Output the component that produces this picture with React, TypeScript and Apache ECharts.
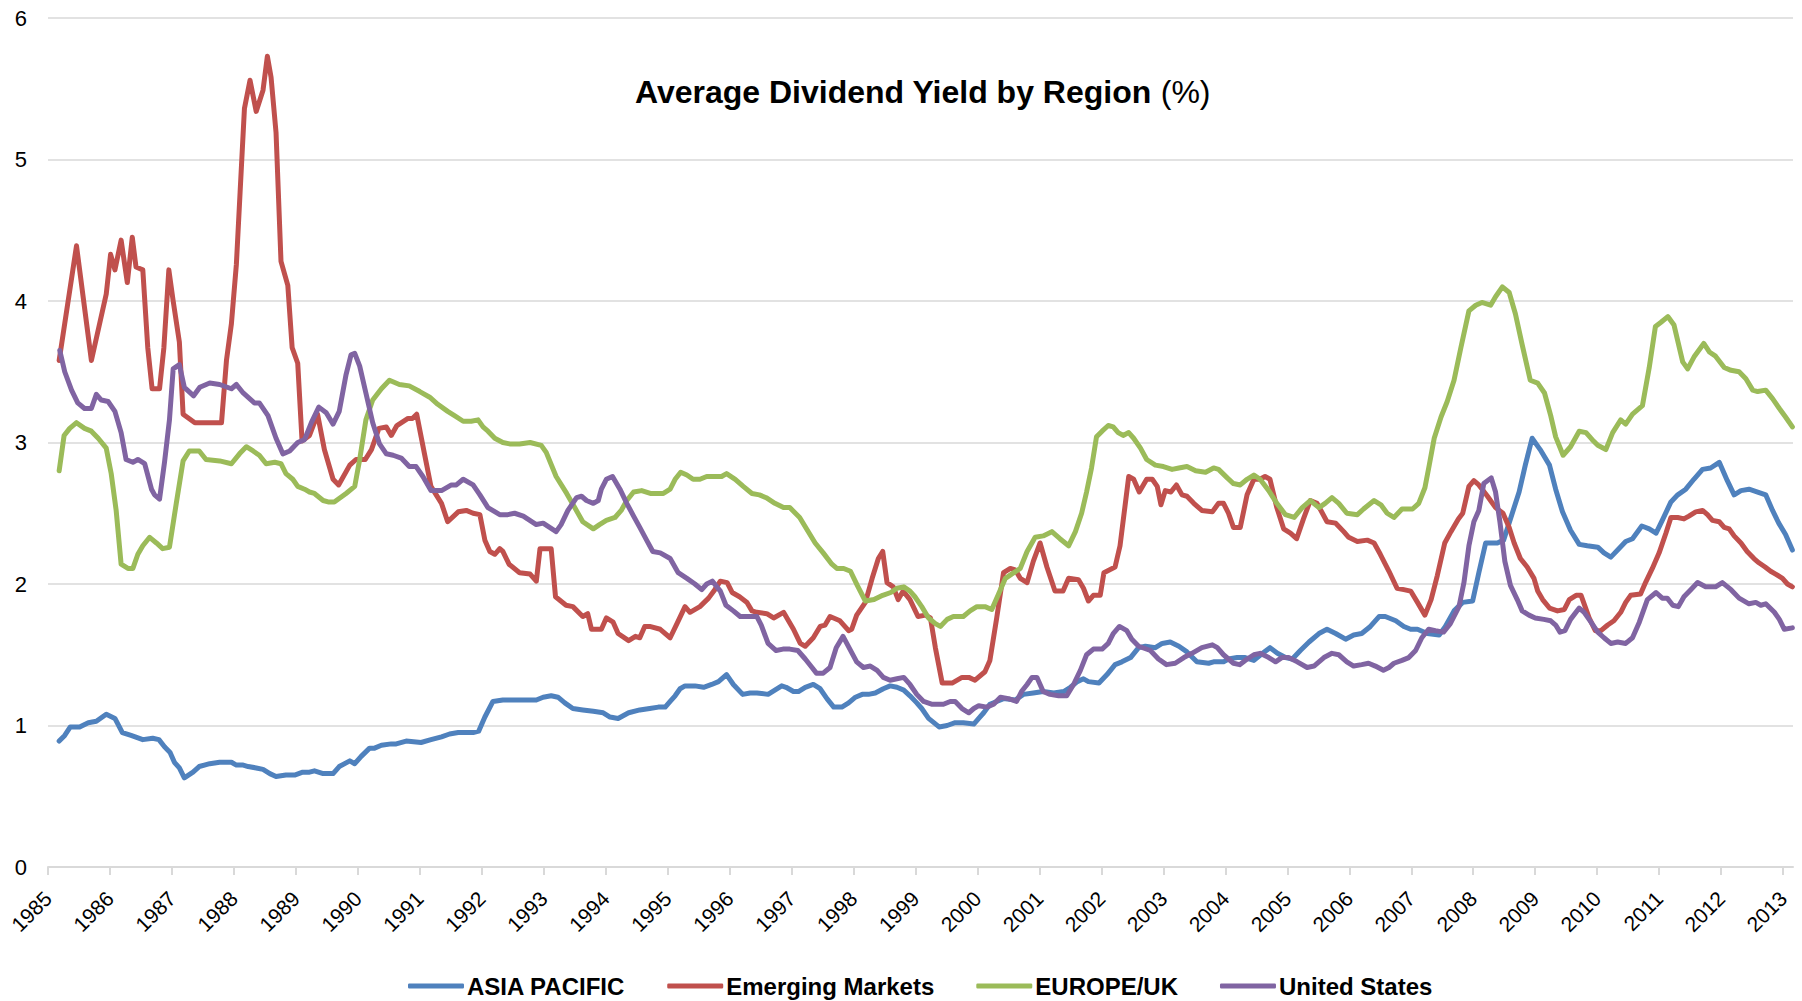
import React, { useEffect, useRef } from "react";
import * as echarts from "echarts";

const FONT = "'Liberation Sans', Arial, Helvetica, sans-serif";

const seriesNames = ["ASIA PACIFIC", "Emerging Markets", "EUROPE/UK", "United States"];
const seriesColors = ["#4F81BD", "#C0504D", "#9BBB59", "#8064A2"];
const yearTicks = [1985, 1986, 1987, 1988, 1989, 1990, 1991, 1992, 1993, 1994, 1995, 1996, 1997, 1998, 1999, 2000, 2001, 2002, 2003, 2004, 2005, 2006, 2007, 2008, 2009, 2010, 2011, 2012, 2013];
const yTicks = [0, 1, 2, 3, 4, 5, 6];

const asiaPacific: [number, number][] = [[1985.18,0.89],[1985.27,0.93],[1985.36,0.99],[1985.51,0.99],[1985.65,1.02],[1985.78,1.03],[1985.94,1.08],[1986.08,1.05],[1986.20,0.95],[1986.34,0.93],[1986.53,0.90],[1986.69,0.91],[1986.79,0.90],[1986.88,0.85],[1986.97,0.81],[1987.04,0.74],[1987.12,0.70],[1987.20,0.63],[1987.34,0.67],[1987.44,0.71],[1987.61,0.73],[1987.77,0.74],[1987.96,0.74],[1988.04,0.72],[1988.15,0.72],[1988.23,0.71],[1988.36,0.70],[1988.47,0.69],[1988.58,0.66],[1988.68,0.64],[1988.84,0.65],[1988.98,0.65],[1989.11,0.67],[1989.22,0.67],[1989.30,0.68],[1989.44,0.66],[1989.60,0.66],[1989.70,0.71],[1989.87,0.75],[1989.95,0.73],[1990.05,0.78],[1990.19,0.84],[1990.27,0.84],[1990.38,0.86],[1990.54,0.87],[1990.62,0.87],[1990.78,0.89],[1991.02,0.88],[1991.18,0.90],[1991.35,0.92],[1991.48,0.94],[1991.62,0.95],[1991.75,0.95],[1991.86,0.95],[1991.95,0.96],[1992.05,1.06],[1992.18,1.17],[1992.34,1.18],[1992.50,1.18],[1992.67,1.18],[1992.88,1.18],[1992.99,1.20],[1993.12,1.21],[1993.23,1.20],[1993.34,1.16],[1993.47,1.12],[1993.63,1.11],[1993.80,1.10],[1993.96,1.09],[1994.07,1.06],[1994.20,1.05],[1994.37,1.09],[1994.55,1.11],[1994.71,1.12],[1994.85,1.13],[1994.96,1.13],[1995.04,1.17],[1995.12,1.21],[1995.20,1.26],[1995.28,1.28],[1995.44,1.28],[1995.58,1.27],[1995.71,1.29],[1995.82,1.31],[1995.95,1.36],[1996.06,1.29],[1996.21,1.22],[1996.33,1.23],[1996.44,1.23],[1996.62,1.22],[1996.73,1.25],[1996.84,1.28],[1996.91,1.27],[1997.03,1.24],[1997.11,1.24],[1997.22,1.27],[1997.35,1.29],[1997.46,1.26],[1997.57,1.19],[1997.68,1.13],[1997.81,1.13],[1997.92,1.16],[1998.03,1.20],[1998.14,1.22],[1998.24,1.22],[1998.35,1.23],[1998.48,1.26],[1998.59,1.28],[1998.70,1.27],[1998.81,1.25],[1998.91,1.21],[1999.02,1.16],[1999.10,1.12],[1999.21,1.05],[1999.38,0.99],[1999.51,1.00],[1999.64,1.02],[1999.77,1.02],[1999.94,1.01],[2000.02,1.05],[2000.10,1.09],[2000.20,1.15],[2000.31,1.17],[2000.42,1.19],[2000.61,1.18],[2000.74,1.22],[2000.90,1.23],[2001.06,1.24],[2001.23,1.23],[2001.39,1.24],[2001.50,1.27],[2001.61,1.31],[2001.71,1.33],[2001.79,1.31],[2001.96,1.30],[2002.09,1.36],[2002.22,1.43],[2002.33,1.45],[2002.47,1.48],[2002.60,1.55],[2002.71,1.56],[2002.87,1.55],[2002.98,1.58],[2003.11,1.59],[2003.25,1.56],[2003.38,1.52],[2003.54,1.45],[2003.73,1.44],[2003.81,1.45],[2003.97,1.45],[2004.05,1.47],[2004.19,1.48],[2004.32,1.48],[2004.46,1.46],[2004.60,1.51],[2004.72,1.55],[2004.84,1.51],[2004.97,1.48],[2005.08,1.47],[2005.21,1.53],[2005.35,1.59],[2005.51,1.65],[2005.64,1.68],[2005.78,1.65],[2005.94,1.61],[2006.07,1.64],[2006.20,1.65],[2006.34,1.70],[2006.48,1.77],[2006.58,1.77],[2006.75,1.74],[2006.88,1.70],[2006.99,1.68],[2007.10,1.68],[2007.26,1.65],[2007.45,1.64],[2007.55,1.70],[2007.69,1.81],[2007.83,1.87],[2007.99,1.88],[2008.09,2.08],[2008.20,2.29],[2008.39,2.29],[2008.49,2.31],[2008.60,2.46],[2008.74,2.65],[2008.84,2.84],[2008.95,3.03],[2009.08,2.95],[2009.23,2.84],[2009.33,2.67],[2009.44,2.51],[2009.57,2.38],[2009.71,2.28],[2009.84,2.27],[2010.01,2.26],[2010.11,2.22],[2010.22,2.19],[2010.33,2.24],[2010.46,2.30],[2010.57,2.32],[2010.72,2.41],[2010.84,2.39],[2010.95,2.36],[2011.05,2.45],[2011.19,2.58],[2011.30,2.63],[2011.43,2.67],[2011.56,2.74],[2011.70,2.81],[2011.83,2.82],[2011.97,2.86],[2012.10,2.73],[2012.21,2.63],[2012.32,2.66],[2012.45,2.67],[2012.59,2.65],[2012.72,2.63],[2012.83,2.52],[2012.93,2.43],[2013.04,2.35],[2013.15,2.24]];

const emergingMarkets: [number, number][] = [[1985.18,3.58],[1985.46,4.39],[1985.70,3.58],[1985.94,4.05],[1986.01,4.33],[1986.08,4.22],[1986.18,4.43],[1986.28,4.13],[1986.36,4.45],[1986.42,4.24],[1986.53,4.22],[1986.61,3.67],[1986.68,3.38],[1986.80,3.38],[1986.87,3.67],[1986.95,4.22],[1987.02,4.00],[1987.12,3.71],[1987.18,3.20],[1987.37,3.14],[1987.80,3.14],[1987.88,3.58],[1987.96,3.84],[1988.04,4.26],[1988.10,4.77],[1988.17,5.36],[1988.26,5.56],[1988.36,5.34],[1988.47,5.49],[1988.54,5.73],[1988.60,5.58],[1988.68,5.19],[1988.76,4.28],[1988.87,4.11],[1988.94,3.67],[1989.03,3.56],[1989.10,3.01],[1989.22,3.05],[1989.35,3.20],[1989.46,2.95],[1989.60,2.74],[1989.69,2.70],[1989.87,2.84],[1989.97,2.88],[1990.12,2.88],[1990.22,2.95],[1990.34,3.10],[1990.46,3.11],[1990.54,3.05],[1990.63,3.12],[1990.81,3.17],[1990.88,3.17],[1990.95,3.20],[1991.08,2.91],[1991.18,2.69],[1991.35,2.57],[1991.45,2.44],[1991.62,2.51],[1991.75,2.52],[1991.86,2.50],[1991.97,2.49],[1992.05,2.31],[1992.13,2.23],[1992.21,2.21],[1992.29,2.25],[1992.34,2.23],[1992.44,2.14],[1992.61,2.08],[1992.78,2.07],[1992.88,2.02],[1992.94,2.25],[1993.12,2.25],[1993.19,1.91],[1993.36,1.85],[1993.47,1.84],[1993.63,1.77],[1993.71,1.79],[1993.77,1.68],[1993.93,1.68],[1994.01,1.76],[1994.12,1.73],[1994.20,1.65],[1994.37,1.60],[1994.48,1.63],[1994.55,1.62],[1994.63,1.70],[1994.71,1.70],[1994.88,1.68],[1995.04,1.62],[1995.15,1.72],[1995.28,1.84],[1995.36,1.80],[1995.52,1.84],[1995.66,1.90],[1995.76,1.96],[1995.85,2.02],[1995.96,2.01],[1996.04,1.94],[1996.16,1.91],[1996.28,1.87],[1996.36,1.81],[1996.44,1.80],[1996.60,1.79],[1996.71,1.76],[1996.87,1.80],[1997.03,1.68],[1997.14,1.58],[1997.22,1.56],[1997.35,1.62],[1997.46,1.70],[1997.54,1.71],[1997.62,1.77],[1997.78,1.74],[1997.92,1.67],[1997.97,1.68],[1998.05,1.78],[1998.19,1.87],[1998.30,2.04],[1998.40,2.18],[1998.47,2.23],[1998.54,2.01],[1998.64,1.98],[1998.72,1.89],[1998.80,1.95],[1998.91,1.89],[1999.04,1.77],[1999.16,1.78],[1999.24,1.76],[1999.32,1.55],[1999.43,1.30],[1999.59,1.30],[1999.75,1.34],[1999.86,1.34],[1999.96,1.32],[2000.12,1.38],[2000.20,1.46],[2000.31,1.76],[2000.42,2.08],[2000.53,2.11],[2000.61,2.10],[2000.69,2.04],[2000.80,2.01],[2000.90,2.16],[2001.01,2.29],[2001.12,2.12],[2001.25,1.95],[2001.38,1.95],[2001.47,2.04],[2001.63,2.03],[2001.71,1.97],[2001.79,1.88],[2001.87,1.92],[2001.98,1.92],[2002.04,2.08],[2002.22,2.12],[2002.30,2.27],[2002.44,2.76],[2002.52,2.74],[2002.61,2.65],[2002.73,2.74],[2002.82,2.74],[2002.90,2.69],[2002.96,2.56],[2003.03,2.66],[2003.12,2.65],[2003.21,2.70],[2003.30,2.63],[2003.38,2.62],[2003.49,2.57],[2003.62,2.52],[2003.79,2.51],[2003.89,2.57],[2003.97,2.57],[2004.05,2.50],[2004.13,2.40],[2004.24,2.40],[2004.35,2.63],[2004.46,2.74],[2004.56,2.74],[2004.64,2.76],[2004.72,2.74],[2004.83,2.54],[2004.94,2.39],[2005.05,2.36],[2005.15,2.32],[2005.26,2.46],[2005.37,2.59],[2005.48,2.57],[2005.64,2.44],[2005.78,2.43],[2005.91,2.37],[2005.99,2.33],[2006.13,2.30],[2006.29,2.31],[2006.40,2.29],[2006.50,2.21],[2006.64,2.09],[2006.77,1.97],[2006.88,1.96],[2006.99,1.95],[2007.10,1.87],[2007.22,1.78],[2007.32,1.89],[2007.42,2.06],[2007.54,2.29],[2007.64,2.37],[2007.76,2.46],[2007.83,2.50],[2007.93,2.69],[2008.01,2.73],[2008.09,2.70],[2008.23,2.62],[2008.36,2.54],[2008.48,2.50],[2008.58,2.40],[2008.66,2.29],[2008.76,2.18],[2008.87,2.12],[2008.98,2.04],[2009.04,1.95],[2009.12,1.89],[2009.23,1.83],[2009.36,1.81],[2009.47,1.82],[2009.55,1.89],[2009.66,1.92],[2009.74,1.92],[2009.87,1.76],[2009.97,1.67],[2010.06,1.67],[2010.17,1.71],[2010.27,1.74],[2010.38,1.80],[2010.46,1.87],[2010.54,1.92],[2010.70,1.93],[2010.78,2.01],[2010.89,2.11],[2011.00,2.22],[2011.11,2.36],[2011.19,2.47],[2011.30,2.47],[2011.40,2.46],[2011.48,2.48],[2011.59,2.51],[2011.70,2.52],[2011.78,2.49],[2011.86,2.45],[2011.97,2.44],[2012.05,2.40],[2012.13,2.39],[2012.21,2.34],[2012.32,2.29],[2012.42,2.23],[2012.53,2.18],[2012.61,2.15],[2012.71,2.12],[2012.80,2.09],[2012.88,2.07],[2012.99,2.04],[2013.07,2.00],[2013.15,1.98]];

const europeUK: [number, number][] = [[1985.18,2.80],[1985.26,3.05],[1985.35,3.10],[1985.46,3.14],[1985.59,3.10],[1985.70,3.08],[1985.81,3.03],[1985.94,2.96],[1986.02,2.78],[1986.10,2.52],[1986.18,2.14],[1986.29,2.11],[1986.37,2.11],[1986.45,2.21],[1986.53,2.27],[1986.64,2.33],[1986.75,2.29],[1986.85,2.25],[1986.96,2.26],[1987.07,2.57],[1987.18,2.87],[1987.28,2.94],[1987.44,2.94],[1987.55,2.88],[1987.77,2.87],[1987.96,2.85],[1988.09,2.92],[1988.20,2.97],[1988.31,2.94],[1988.41,2.91],[1988.52,2.85],[1988.66,2.86],[1988.76,2.85],[1988.84,2.78],[1988.95,2.74],[1989.03,2.69],[1989.14,2.67],[1989.22,2.65],[1989.30,2.64],[1989.44,2.59],[1989.52,2.58],[1989.62,2.58],[1989.81,2.64],[1989.95,2.69],[1990.03,2.88],[1990.13,3.16],[1990.24,3.30],[1990.38,3.38],[1990.51,3.44],[1990.67,3.41],[1990.83,3.40],[1991.00,3.36],[1991.16,3.32],[1991.29,3.27],[1991.45,3.22],[1991.56,3.19],[1991.70,3.15],[1991.83,3.15],[1991.94,3.16],[1992.02,3.11],[1992.10,3.08],[1992.21,3.03],[1992.34,3.00],[1992.45,2.99],[1992.61,2.99],[1992.78,3.00],[1992.96,2.98],[1993.04,2.93],[1993.20,2.76],[1993.37,2.64],[1993.50,2.54],[1993.63,2.44],[1993.80,2.39],[1993.90,2.42],[1994.01,2.45],[1994.15,2.47],[1994.25,2.52],[1994.34,2.59],[1994.45,2.65],[1994.58,2.66],[1994.72,2.64],[1994.93,2.64],[1995.04,2.67],[1995.12,2.74],[1995.21,2.79],[1995.31,2.77],[1995.41,2.74],[1995.52,2.74],[1995.63,2.76],[1995.76,2.76],[1995.87,2.76],[1995.95,2.78],[1996.09,2.74],[1996.22,2.69],[1996.36,2.64],[1996.48,2.63],[1996.59,2.61],[1996.73,2.57],[1996.87,2.54],[1996.97,2.54],[1997.13,2.47],[1997.24,2.39],[1997.38,2.29],[1997.51,2.22],[1997.65,2.14],[1997.73,2.11],[1997.84,2.11],[1997.95,2.09],[1998.06,1.99],[1998.19,1.88],[1998.33,1.89],[1998.47,1.92],[1998.60,1.94],[1998.70,1.97],[1998.81,1.98],[1998.91,1.95],[1998.99,1.91],[1999.10,1.84],[1999.21,1.76],[1999.32,1.72],[1999.40,1.70],[1999.51,1.75],[1999.61,1.77],[1999.77,1.77],[1999.88,1.81],[1999.99,1.84],[2000.12,1.84],[2000.23,1.82],[2000.34,1.93],[2000.45,2.04],[2000.55,2.07],[2000.69,2.11],[2000.80,2.23],[2000.93,2.33],[2001.06,2.34],[2001.20,2.37],[2001.33,2.32],[2001.47,2.27],[2001.58,2.37],[2001.68,2.50],[2001.76,2.65],[2001.84,2.82],[2001.92,3.04],[2002.01,3.08],[2002.11,3.12],[2002.19,3.11],[2002.27,3.07],[2002.35,3.05],[2002.44,3.07],[2002.52,3.03],[2002.63,2.96],[2002.73,2.88],[2002.87,2.84],[2003.00,2.83],[2003.14,2.81],[2003.25,2.82],[2003.38,2.83],[2003.52,2.80],[2003.68,2.79],[2003.81,2.82],[2003.89,2.81],[2004.03,2.75],[2004.13,2.71],[2004.24,2.70],[2004.35,2.74],[2004.46,2.77],[2004.56,2.74],[2004.70,2.66],[2004.83,2.57],[2004.97,2.49],[2005.11,2.47],[2005.24,2.54],[2005.37,2.59],[2005.51,2.54],[2005.61,2.57],[2005.72,2.61],[2005.83,2.57],[2005.96,2.50],[2006.13,2.49],[2006.23,2.53],[2006.40,2.59],[2006.51,2.56],[2006.61,2.50],[2006.72,2.47],[2006.85,2.53],[2007.02,2.53],[2007.12,2.57],[2007.22,2.68],[2007.29,2.84],[2007.37,3.03],[2007.48,3.18],[2007.58,3.29],[2007.69,3.44],[2007.80,3.67],[2007.93,3.93],[2008.04,3.97],[2008.14,3.99],[2008.28,3.97],[2008.36,4.03],[2008.47,4.10],[2008.58,4.06],[2008.68,3.91],[2008.79,3.69],[2008.92,3.44],[2009.04,3.42],[2009.15,3.35],[2009.25,3.19],[2009.33,3.04],[2009.45,2.91],[2009.57,2.97],[2009.71,3.08],[2009.82,3.07],[2009.92,3.02],[2010.01,2.98],[2010.14,2.95],[2010.25,3.07],[2010.38,3.16],[2010.46,3.13],[2010.57,3.20],[2010.73,3.26],[2010.84,3.53],[2010.94,3.82],[2011.03,3.85],[2011.14,3.89],[2011.24,3.83],[2011.38,3.57],[2011.46,3.52],[2011.57,3.61],[2011.72,3.70],[2011.81,3.64],[2011.91,3.61],[2012.05,3.53],[2012.16,3.51],[2012.29,3.50],[2012.40,3.45],[2012.51,3.37],[2012.59,3.36],[2012.72,3.37],[2012.83,3.31],[2012.94,3.24],[2013.04,3.18],[2013.15,3.11]];

const unitedStates: [number, number][] = [[1985.19,3.65],[1985.27,3.50],[1985.38,3.37],[1985.48,3.28],[1985.59,3.24],[1985.70,3.24],[1985.78,3.34],[1985.86,3.30],[1985.97,3.29],[1986.08,3.22],[1986.18,3.07],[1986.26,2.88],[1986.37,2.86],[1986.45,2.88],[1986.56,2.85],[1986.67,2.67],[1986.72,2.63],[1986.80,2.60],[1986.88,2.86],[1986.96,3.16],[1987.02,3.52],[1987.12,3.55],[1987.20,3.39],[1987.35,3.33],[1987.45,3.39],[1987.61,3.42],[1987.77,3.41],[1987.96,3.38],[1988.04,3.41],[1988.15,3.35],[1988.33,3.28],[1988.41,3.28],[1988.55,3.19],[1988.68,3.03],[1988.79,2.92],[1988.90,2.94],[1989.03,3.00],[1989.14,3.02],[1989.25,3.14],[1989.37,3.25],[1989.49,3.21],[1989.60,3.13],[1989.70,3.22],[1989.81,3.48],[1989.89,3.62],[1989.95,3.63],[1990.03,3.54],[1990.13,3.35],[1990.24,3.14],[1990.35,2.99],[1990.46,2.92],[1990.57,2.91],[1990.70,2.89],[1990.83,2.83],[1990.94,2.83],[1991.05,2.76],[1991.18,2.66],[1991.35,2.66],[1991.51,2.70],[1991.59,2.70],[1991.70,2.74],[1991.86,2.70],[1991.97,2.63],[1992.10,2.54],[1992.29,2.49],[1992.42,2.49],[1992.53,2.50],[1992.67,2.48],[1992.88,2.42],[1992.99,2.43],[1993.20,2.37],[1993.28,2.42],[1993.39,2.52],[1993.53,2.61],[1993.61,2.62],[1993.69,2.59],[1993.80,2.57],[1993.88,2.59],[1993.93,2.67],[1994.01,2.74],[1994.11,2.76],[1994.23,2.67],[1994.34,2.57],[1994.45,2.48],[1994.55,2.40],[1994.66,2.31],[1994.76,2.23],[1994.88,2.22],[1995.04,2.18],[1995.17,2.08],[1995.31,2.04],[1995.44,2.00],[1995.55,1.96],[1995.63,2.00],[1995.72,2.02],[1995.85,1.95],[1995.94,1.85],[1996.06,1.81],[1996.17,1.77],[1996.28,1.77],[1996.44,1.77],[1996.51,1.71],[1996.62,1.58],[1996.75,1.53],[1996.86,1.54],[1996.97,1.54],[1997.10,1.53],[1997.22,1.47],[1997.31,1.42],[1997.40,1.37],[1997.51,1.37],[1997.62,1.41],[1997.72,1.55],[1997.83,1.63],[1997.94,1.54],[1998.05,1.45],[1998.16,1.41],[1998.27,1.42],[1998.38,1.39],[1998.48,1.34],[1998.59,1.32],[1998.70,1.33],[1998.81,1.34],[1998.91,1.29],[1999.02,1.22],[1999.13,1.17],[1999.27,1.15],[1999.45,1.15],[1999.56,1.17],[1999.64,1.17],[1999.75,1.12],[1999.86,1.09],[1999.94,1.12],[2000.02,1.14],[2000.15,1.13],[2000.26,1.15],[2000.37,1.20],[2000.50,1.19],[2000.63,1.17],[2000.71,1.24],[2000.80,1.29],[2000.88,1.34],[2000.96,1.34],[2001.06,1.24],[2001.17,1.22],[2001.31,1.21],[2001.44,1.21],[2001.55,1.29],[2001.66,1.39],[2001.76,1.50],[2001.87,1.54],[2002.01,1.54],[2002.11,1.58],[2002.19,1.65],[2002.29,1.70],[2002.41,1.67],[2002.49,1.61],[2002.60,1.56],[2002.79,1.53],[2002.92,1.47],[2003.05,1.43],[2003.19,1.44],[2003.33,1.48],[2003.46,1.51],[2003.62,1.55],[2003.79,1.57],[2003.87,1.55],[2003.97,1.50],[2004.13,1.44],[2004.23,1.43],[2004.32,1.46],[2004.46,1.50],[2004.56,1.51],[2004.70,1.48],[2004.81,1.45],[2004.91,1.48],[2005.02,1.48],[2005.16,1.45],[2005.32,1.41],[2005.43,1.42],[2005.59,1.48],[2005.72,1.51],[2005.83,1.50],[2005.96,1.45],[2006.07,1.42],[2006.20,1.43],[2006.31,1.44],[2006.42,1.42],[2006.55,1.39],[2006.64,1.41],[2006.72,1.44],[2006.85,1.46],[2006.96,1.48],[2007.07,1.53],[2007.17,1.62],[2007.28,1.68],[2007.39,1.67],[2007.52,1.66],[2007.63,1.72],[2007.77,1.84],[2007.85,2.01],[2007.93,2.27],[2008.01,2.44],[2008.09,2.52],[2008.17,2.71],[2008.29,2.75],[2008.36,2.65],[2008.43,2.44],[2008.51,2.16],[2008.60,1.99],[2008.71,1.89],[2008.79,1.81],[2008.90,1.78],[2009.00,1.76],[2009.14,1.75],[2009.25,1.74],[2009.33,1.71],[2009.40,1.66],[2009.48,1.67],[2009.57,1.75],[2009.71,1.83],[2009.79,1.80],[2009.90,1.73],[2010.01,1.66],[2010.11,1.62],[2010.22,1.58],[2010.33,1.59],[2010.46,1.58],[2010.57,1.62],[2010.68,1.73],[2010.81,1.89],[2010.95,1.94],[2011.05,1.90],[2011.13,1.90],[2011.22,1.85],[2011.31,1.84],[2011.40,1.91],[2011.51,1.96],[2011.62,2.01],[2011.75,1.98],[2011.91,1.98],[2012.02,2.01],[2012.16,1.96],[2012.29,1.90],[2012.45,1.86],[2012.56,1.87],[2012.64,1.85],[2012.72,1.86],[2012.86,1.80],[2012.94,1.75],[2013.02,1.68],[2013.15,1.69]];

const seriesData = [asiaPacific, emergingMarkets, europeUK, unitedStates];

export default function App() {
  const ref = useRef<HTMLDivElement>(null);
  useEffect(() => {
    if (!ref.current) return;
    const chart = echarts.init(ref.current, undefined, { renderer: "svg" });
    chart.setOption({
      animation: false,
      backgroundColor: "#ffffff",
      title: {
        text: "{b|Average Dividend Yield by Region }{r|(%)}",
        left: 635,
        top: 76,
        padding: 0,
        textStyle: {
          rich: {
            b: { fontSize: 32, fontWeight: "bold", fontFamily: FONT, color: "#000000" },
            r: { fontSize: 32, fontWeight: "normal", fontFamily: FONT, color: "#000000" },
          },
        },
      },
      legend: {
        data: seriesNames,
        left: 408,
        top: 974,
        padding: 0,
        icon: "roundRect",
        itemWidth: 56,
        itemHeight: 5,
        itemGap: 42,
        textStyle: { fontSize: 24, fontWeight: "bold", fontFamily: FONT, color: "#000000", padding: [0, 0, 0, -2] },
      },
      grid: { left: 48, right: 9, top: 18, bottom: 134, containLabel: false },
      xAxis: {
        type: "value",
        min: 1985,
        max: 2013.16,
        interval: 1,
        splitLine: { show: false },
        axisLine: { show: true, lineStyle: { color: "#d9d9d9", width: 2 } },
        axisTick: { show: true, length: 8, customValues: yearTicks, lineStyle: { color: "#d9d9d9", width: 2 } },
        axisLabel: {
          customValues: yearTicks,
          rotate: 45,
          margin: 28,
          fontSize: 21,
          fontFamily: FONT,
          color: "#000000",
          formatter: (v: number) => String(Math.round(v)),
        },
      },
      yAxis: {
        type: "value",
        min: yTicks[0],
        max: yTicks[yTicks.length - 1],
        interval: 1,
        axisLine: { show: false },
        axisTick: { show: false },
        splitLine: { show: true, lineStyle: { color: "#d9d9d9", width: 1.5 } },
        axisLabel: { margin: 21, fontSize: 22, fontFamily: FONT, color: "#000000" },
      },
      series: seriesNames.map((name, i) => ({
        name,
        type: "line",
        data: seriesData[i],
        symbol: "none",
        showSymbol: false,
        color: seriesColors[i],
        itemStyle: { color: seriesColors[i] },
        lineStyle: { color: seriesColors[i], width: 5, cap: "round", join: "round" },
      })),
    });
    return () => chart.dispose();
  }, []);
  return (
    <div
      ref={ref}
      style={{ position: "fixed", left: 0, top: 0, width: "1802px", height: "1001px", background: "#fff" }}
    />
  );
}
